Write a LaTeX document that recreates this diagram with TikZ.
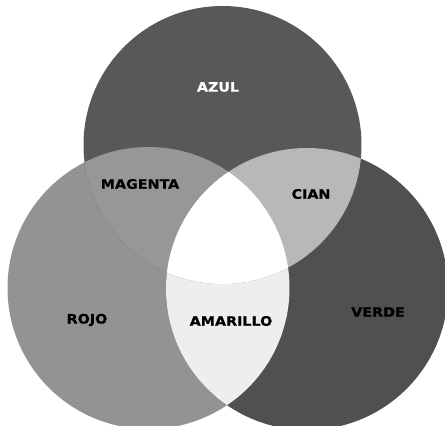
\documentclass[tikz,border=0pt]{standalone}
\usepackage{fontspec}
\newfontfamily\lblfont{DejaVu Sans}[FakeStretch=1.1,FakeBold=0.8]
\definecolor{azulc}{HTML}{585858}
\definecolor{verdec}{HTML}{505050}
\definecolor{rojoc}{HTML}{939393}
\definecolor{magentac}{HTML}{979797}
\definecolor{cianc}{HTML}{B8B8B8}
\definecolor{amarilloc}{HTML}{EEEEEE}
\begin{document}
\begin{tikzpicture}[x=1pt,y=-1pt,
  lbl/.style={font=\lblfont\bfseries\fontsize{13}{15}\selectfont, inner sep=0pt, text=black}]
\useasboundingbox (0,0) rectangle (445,426);
\clip (0,0) rectangle (445,426);
\fill[white] (0,0) rectangle (445,426);
\coordinate (T) at (222.5,145);
\coordinate (L) at (148.5,288);
\coordinate (R) at (307,289);
\def\rT{139}
\def\rL{141}
\def\rR{141}
% single circles
\fill[rojoc] (L) circle[radius=\rL];
\fill[verdec] (R) circle[radius=\rR];
\fill[azulc] (T) circle[radius=\rT];
% left & right overlap
\begin{scope}
  \clip (L) circle[radius=\rL];
  \fill[amarilloc] (R) circle[radius=\rR];
\end{scope}
% overlaps with top
\begin{scope}
  \clip (T) circle[radius=\rT];
  \fill[magentac] (L) circle[radius=\rL];
  \fill[cianc] (R) circle[radius=\rR];
  \clip (L) circle[radius=\rL];
  \fill[white] (R) circle[radius=\rR];
\end{scope}
% labels
\node[lbl, text=white] (azul) at (218,87) {AZUL};
\node[lbl] (magenta) at (140,184) {MAGENTA};
\node[lbl] (cian) at (311,194) {CIAN};
\node[lbl] (rojo) at (87,320) {ROJO};
\node[lbl] (amarillo) at (231,321) {AMARILLO};
\node[lbl] (verde) at (378,312) {VERDE};
\end{tikzpicture}
\end{document}
